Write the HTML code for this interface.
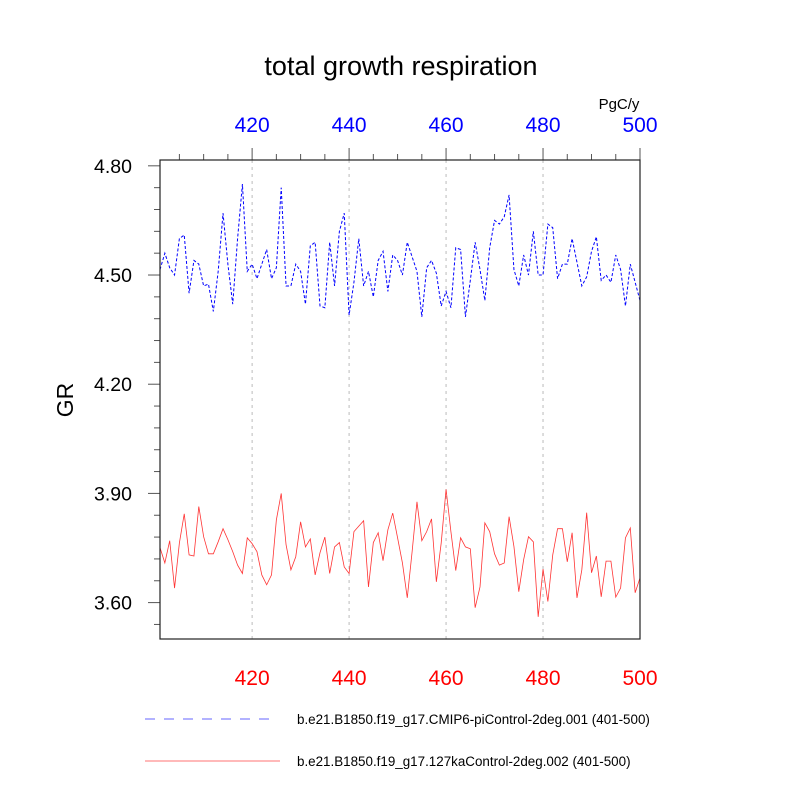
<!DOCTYPE html>
<html><head><meta charset="utf-8"><style>
body{margin:0;background:#fff;}
svg{display:block;font-family:"Liberation Sans",sans-serif;}
</style></head><body>
<svg id="chart" width="800" height="800" xmlns="http://www.w3.org/2000/svg">
<text x="401" y="75" font-size="27" text-anchor="middle">total growth respiration</text>
<text x="619" y="109" font-size="15" text-anchor="middle">PgC/y</text>
<text transform="translate(73,400) rotate(-90)" font-size="23" text-anchor="middle">GR</text>
<g id="grid"></g>
<g id="axes"></g>
<g id="series"></g>
<rect x="160" y="160" width="480" height="479" fill="none" stroke="#222" stroke-width="1.2"/>
<g>
<line x1="145" y1="719" x2="278" y2="719" stroke="#33f" stroke-width="0.8" stroke-dasharray="10,9"/>
<text x="297" y="724" font-size="13.4">b.e21.B1850.f19_g17.CMIP6-piControl-2deg.001 (401-500)</text>
<line x1="145" y1="761" x2="280" y2="761" stroke="#f44" stroke-width="0.8"/>
<text x="297" y="766" font-size="13.4">b.e21.B1850.f19_g17.127kaControl-2deg.002 (401-500)</text>
</g>
</svg>
<script>
const startYear = 401;
const blueValues = [4.515,4.56,4.52,4.50,4.60,4.61,4.45,4.54,4.53,4.47,4.475,4.40,4.51,4.67,4.53,4.42,4.60,4.75,4.51,4.53,
4.49,4.53,4.57,4.49,4.52,4.74,4.47,4.47,4.53,4.51,4.42,4.58,4.59,4.415,4.41,4.59,4.47,4.62,4.67,4.39,
4.48,4.60,4.47,4.51,4.44,4.54,4.565,4.455,4.555,4.54,4.50,4.59,4.55,4.51,4.385,4.52,4.54,4.505,4.415,4.455,
4.41,4.575,4.57,4.385,4.485,4.59,4.515,4.43,4.575,4.65,4.64,4.66,4.72,4.515,4.47,4.555,4.50,4.62,4.50,4.50,
4.64,4.63,4.49,4.53,4.53,4.60,4.535,4.47,4.495,4.565,4.605,4.485,4.50,4.48,4.555,4.515,4.415,4.53,4.48,4.43];
const redValues = [3.751,3.709,3.77,3.64,3.764,3.844,3.731,3.728,3.864,3.781,3.734,3.734,3.767,3.803,3.773,3.74,3.703,3.68,3.778,3.762,
3.74,3.676,3.649,3.676,3.827,3.90,3.759,3.69,3.726,3.822,3.753,3.775,3.676,3.737,3.78,3.68,3.753,3.765,3.698,3.68,
3.795,3.81,3.825,3.643,3.765,3.792,3.715,3.80,3.846,3.778,3.709,3.613,3.74,3.877,3.77,3.795,3.83,3.657,3.764,3.911,
3.795,3.688,3.778,3.753,3.748,3.586,3.643,3.819,3.795,3.734,3.703,3.709,3.836,3.754,3.63,3.718,3.781,3.767,3.561,3.692,
3.603,3.731,3.803,3.803,3.712,3.792,3.613,3.69,3.847,3.682,3.728,3.616,3.714,3.714,3.615,3.64,3.778,3.805,3.627,3.668];
const xTickLabels = [420,440,460,480,500];
const yTickLabels = ["3.60","3.90","4.20","4.50","4.80"];

const X0=160,X1=640,Y0=160,Y1=639, xmin=401,xmax=500,ymin=3.5,ymax=4.816;
const sx=v=>X0+(v-xmin)/(xmax-xmin)*(X1-X0);
const sy=v=>Y1-(v-ymin)/(ymax-ymin)*(Y1-Y0);
const NS="http://www.w3.org/2000/svg";
function mk(tag,parent){const e=document.createElementNS(NS,tag);document.getElementById(parent).appendChild(e);return e;}

xTickLabels.forEach(t=>{
  if(t<xmax){
    const g=mk('line','grid');
    
    
    g.setAttribute('x1',sx(t));g.setAttribute('x2',sx(t));g.setAttribute('y1',Y0);g.setAttribute('y2',Y1);
    g.setAttribute('stroke','#bbb');g.setAttribute('stroke-dasharray','3,4');g.setAttribute('stroke-width','1');
  }
  const tk=mk('line','axes');
  
  
  tk.setAttribute('x1',sx(t));tk.setAttribute('x2',sx(t));tk.setAttribute('y1',Y0-12);tk.setAttribute('y2',Y0);
  tk.setAttribute('stroke','#555');tk.setAttribute('stroke-width','1');
  const lt=mk('text','axes');
  
  
  lt.setAttribute('x',sx(t));lt.setAttribute('y',132);lt.setAttribute('font-size','21');lt.setAttribute('fill','#00f');lt.setAttribute('text-anchor','middle');
  lt.textContent=t;
  const lb=mk('text','axes');
  
  
  lb.setAttribute('x',sx(t));lb.setAttribute('y',685);lb.setAttribute('font-size','21');lb.setAttribute('fill','#f00');lb.setAttribute('text-anchor','middle');
  lb.textContent=t;
});
for(let m=405;m<xmax;m+=5){
  if(m%20===0) continue;
  const tk=mk('line','axes');
  
  
  tk.setAttribute('x1',sx(m));tk.setAttribute('x2',sx(m));tk.setAttribute('y1',Y0-6);tk.setAttribute('y2',Y0);
  tk.setAttribute('stroke','#555');tk.setAttribute('stroke-width','1');
}
yTickLabels.forEach(t=>{
  const v=parseFloat(t);
  const tk=mk('line','axes');
  
  
  tk.setAttribute('x1',X0-12);tk.setAttribute('x2',X0);tk.setAttribute('y1',sy(v));tk.setAttribute('y2',sy(v));
  tk.setAttribute('stroke','#555');tk.setAttribute('stroke-width','1');
  const l=mk('text','axes');
  
  
  l.setAttribute('x',132);l.setAttribute('y',sy(v)+7);l.setAttribute('font-size','19.5');l.setAttribute('text-anchor','end');
  l.textContent=t;
});
for(let i=0;i<=22;i++){
  const v=3.54+i*0.06;
  if(v>ymax) break;
  if(i%5===1) continue;
  const tk=mk('line','axes');
  
  
  tk.setAttribute('x1',X0-6);tk.setAttribute('x2',X0);tk.setAttribute('y1',sy(v));tk.setAttribute('y2',sy(v));
  tk.setAttribute('stroke','#555');tk.setAttribute('stroke-width','1');
}
function path(vals){return vals.map((v,i)=>(i?'L':'M')+sx(startYear+i).toFixed(2)+','+sy(v).toFixed(2)).join(' ');}
const pb=mk('path','series');


pb.setAttribute('d',path(blueValues));pb.setAttribute('fill','none');pb.setAttribute('stroke','#00f');pb.setAttribute('stroke-width','1');pb.setAttribute('stroke-dasharray','3,2');
const pr=mk('path','series');


pr.setAttribute('d',path(redValues));pr.setAttribute('fill','none');pr.setAttribute('stroke','#f33');pr.setAttribute('stroke-width','0.8');
</script>
</body></html>
